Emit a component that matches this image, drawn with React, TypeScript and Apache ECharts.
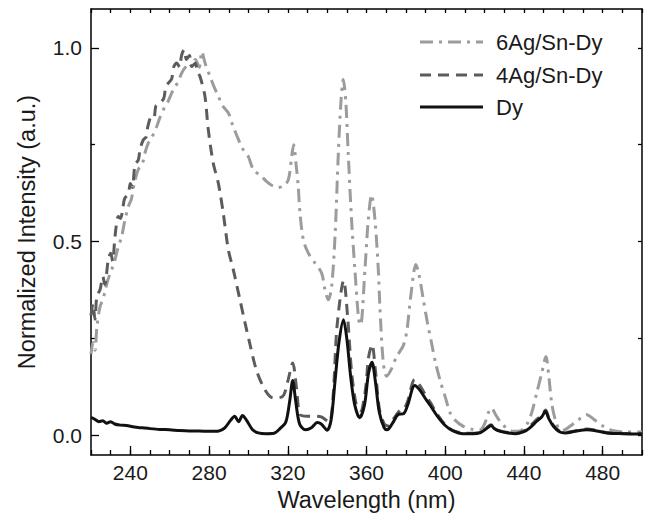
import React, { useEffect, useRef } from "react";
import * as echarts from "echarts";

const seriesNames = ["6Ag/Sn-Dy", "4Ag/Sn-Dy", "Dy"];
const seriesColors = ["#9c9c9c", "#5c5c5c", "#111111"];
const seriesDash: (number[] | null)[] = [[13, 6, 3, 6], [11, 7], null];

const xMajorTicks = [240, 280, 320, 360, 400, 440, 480];
const yMajorTicks = [0, 0.5, 1.0];
const yMinorTicks = [0.25, 0.75];

const dyWl = [220, 222, 224, 226, 228, 230, 232, 235, 238, 242, 246, 250, 255, 260, 265, 270, 275, 280, 285, 288, 291, 293, 295, 297, 299, 302, 305, 309, 313, 316, 319, 321, 322.5, 324, 326, 329, 332, 335, 337, 340, 342, 344, 346, 348.3, 350, 352, 354, 356.5, 359, 361, 362.8, 364.5, 366.5, 369, 370.5, 373, 376, 379, 381, 384.5, 387, 390, 392.5, 396, 400, 404, 409, 414, 418, 421, 423.3, 425, 428, 432, 436, 440, 443, 446.5, 449, 451, 452.5, 455, 458, 461, 466, 472, 477, 482, 490, 500];
const dyVal = [0.047, 0.042, 0.036, 0.038, 0.032, 0.036, 0.03, 0.027, 0.026, 0.022, 0.02, 0.018, 0.016, 0.015, 0.013, 0.012, 0.012, 0.011, 0.012, 0.02, 0.04, 0.05, 0.036, 0.052, 0.04, 0.016, 0.007, 0.005, 0.006, 0.018, 0.035, 0.09, 0.142, 0.09, 0.03, 0.015, 0.02, 0.034, 0.03, 0.014, 0.04, 0.14, 0.24, 0.299, 0.25, 0.15, 0.08, 0.046, 0.08, 0.16, 0.189, 0.14, 0.06, 0.02, 0.015, 0.03, 0.054, 0.057, 0.08, 0.129, 0.118, 0.095, 0.077, 0.05, 0.026, 0.012, 0.005, 0.005, 0.008, 0.018, 0.026, 0.018, 0.011, 0.007, 0.005, 0.01, 0.02, 0.037, 0.048, 0.063, 0.045, 0.024, 0.01, 0.007, 0.011, 0.015, 0.012, 0.007, 0.005, 0.004];

const ag4Wl = [220, 221, 222, 223, 224.6, 226, 227, 228.8, 230, 231, 232.2, 233.9, 235, 236, 237, 239, 240, 241, 242.4, 244, 245, 246.6, 248, 249, 250.8, 252, 253, 255, 257, 258, 259.3, 261, 262, 263.5, 265, 266, 267.3, 268.5, 270, 271.2, 273, 274, 275.4, 277.9, 279.6, 282.1, 284.7, 287.2, 289.8, 292.3, 295.7, 298.3, 300.8, 304, 308.4, 312.6, 316, 318, 320, 322.5, 324.5, 326.2, 330, 334, 337, 341, 343, 345, 348.4, 350.5, 352.5, 355, 357, 359.5, 361, 362.8, 364.5, 366.5, 369, 371, 374, 377, 379, 381, 384.5, 387, 390, 392.5, 396, 400, 404, 409, 414, 418, 421, 423.3, 425, 428, 432, 436, 440, 443, 446.5, 449, 451, 452.5, 455, 458, 461, 466, 472, 477, 482, 490, 500];
const ag4Val = [0.31, 0.34, 0.3, 0.36, 0.376, 0.41, 0.39, 0.454, 0.47, 0.45, 0.514, 0.565, 0.56, 0.58, 0.61, 0.625, 0.65, 0.64, 0.7, 0.71, 0.74, 0.763, 0.77, 0.8, 0.823, 0.82, 0.85, 0.857, 0.87, 0.9, 0.909, 0.92, 0.95, 0.961, 0.95, 0.98, 0.995, 0.97, 0.98, 0.952, 0.96, 0.94, 0.926, 0.875, 0.789, 0.703, 0.651, 0.574, 0.479, 0.428, 0.35, 0.29, 0.235, 0.17, 0.118, 0.097, 0.098, 0.105, 0.14, 0.187, 0.12, 0.055, 0.05, 0.05, 0.048, 0.035, 0.1, 0.28, 0.4, 0.3, 0.16, 0.075, 0.065, 0.12, 0.2, 0.235, 0.17, 0.07, 0.03, 0.025, 0.045, 0.065, 0.068, 0.09, 0.145, 0.13, 0.105, 0.085, 0.055, 0.028, 0.013, 0.007, 0.006, 0.009, 0.02, 0.028, 0.019, 0.012, 0.008, 0.006, 0.012, 0.024, 0.042, 0.052, 0.066, 0.048, 0.026, 0.012, 0.008, 0.012, 0.017, 0.013, 0.008, 0.006, 0.005];

const ag6Wl = [220, 221, 222, 223, 224.6, 226, 227, 228.5, 230.5, 232, 233.5, 235.6, 237, 239, 240.5, 242, 244, 246, 247.5, 249.1, 251, 253.4, 255, 257.6, 259, 261.8, 264, 266.1, 268, 270, 271.2, 273, 275, 276.3, 278, 280.5, 282.5, 284.7, 287, 289.8, 292, 294.8, 297, 299.9, 302.5, 306.7, 309.3, 312, 315, 317.7, 320.3, 322, 323, 324.2, 325.3, 326.2, 327.9, 330.4, 333.8, 337.2, 338.9, 340.6, 342.3, 344, 345.7, 347, 348.2, 349.5, 350.7, 352.4, 354.1, 356, 357, 359.2, 360.9, 362.6, 364.3, 366, 366.8, 368.5, 370.2, 372.5, 375.3, 378.7, 380.5, 382.5, 385.1, 386.5, 388.9, 391, 393, 395, 397.3, 400, 402.4, 405, 409.2, 414, 417.7, 420, 422, 423.6, 425.5, 427.8, 431, 434.6, 438, 441.4, 444, 446.5, 449, 451.2, 452.5, 454.1, 456, 458.3, 460, 463.4, 467, 471.9, 476, 480.3, 484, 487.1, 492, 500];
const ag6Val = [0.21, 0.24, 0.22, 0.28, 0.333, 0.35, 0.37, 0.4, 0.428, 0.45, 0.48, 0.514, 0.55, 0.591, 0.61, 0.65, 0.686, 0.7, 0.73, 0.754, 0.77, 0.797, 0.82, 0.849, 0.86, 0.892, 0.91, 0.935, 0.95, 0.96, 0.952, 0.97, 0.95, 0.99, 0.96, 0.926, 0.9, 0.875, 0.85, 0.832, 0.8, 0.765, 0.74, 0.72, 0.686, 0.668, 0.655, 0.645, 0.64, 0.643, 0.66, 0.72, 0.75, 0.7, 0.643, 0.574, 0.505, 0.471, 0.445, 0.419, 0.376, 0.35, 0.385, 0.514, 0.729, 0.86, 0.918, 0.86, 0.729, 0.557, 0.428, 0.3, 0.285, 0.428, 0.557, 0.621, 0.557, 0.428, 0.333, 0.19, 0.153, 0.17, 0.204, 0.232, 0.27, 0.36, 0.441, 0.42, 0.35, 0.29, 0.24, 0.19, 0.144, 0.1, 0.06, 0.04, 0.024, 0.016, 0.015, 0.03, 0.06, 0.071, 0.055, 0.037, 0.02, 0.011, 0.012, 0.028, 0.06, 0.11, 0.16, 0.204, 0.16, 0.084, 0.04, 0.015, 0.014, 0.024, 0.038, 0.054, 0.04, 0.024, 0.015, 0.011, 0.009, 0.009];

const FONT = "'Liberation Sans', Arial, Helvetica, sans-serif";
const TXT = "#1a1a1a";

function pairs(xs: number[], ys: number[]) {
  return xs.map((x, i) => [x, ys[i]]);
}

export default function App() {
  const ref = useRef<HTMLDivElement>(null);
  useEffect(() => {
    if (!ref.current) return;
    const chart = echarts.init(ref.current, null, { renderer: "svg" });
    const axisLineStyle = { color: "#000", width: 1.5 };
    const tickStyle = { color: "#000", width: 1.3 };
    const xCommon = { type: "value", min: 220, max: 500, splitLine: { show: false } };
    const yCommon = { type: "value", min: -0.05, max: 1.1, splitLine: { show: false } };

    const legendRowsY = [42, 75, 107];
    const legendGraphics: any[] = [];
    seriesNames.forEach((name, i) => {
      legendGraphics.push({
        type: "line",
        shape: { x1: 420, y1: legendRowsY[i], x2: 483, y2: legendRowsY[i] },
        style: {
          stroke: seriesColors[i],
          lineWidth: 3,
          lineDash: seriesDash[i] || undefined,
        },
        z: 10,
      });
      legendGraphics.push({
        type: "text",
        x: 496,
        y: legendRowsY[i],
        style: {
          text: name,
          fill: TXT,
          font: `22px ${FONT}`,
          verticalAlign: "middle",
          align: "left",
        },
        z: 10,
      });
    });

    chart.setOption({
      animation: false,
      backgroundColor: "#fff",
      textStyle: { fontFamily: FONT },
      grid: { left: 91, right: 3, top: 9, bottom: 66, containLabel: false },
      graphic: legendGraphics,
      xAxis: [
        {
          ...xCommon,
          position: "bottom",
          interval: 10,
          axisLine: { show: true, onZero: false, lineStyle: axisLineStyle },
          axisTick: { show: true, inside: true, length: 5, lineStyle: tickStyle },
          axisLabel: { show: false },
          name: "Wavelength (nm)",
          nameLocation: "middle",
          nameGap: 33,
          nameTextStyle: { fontSize: 23.5, color: TXT, fontFamily: FONT },
        },
        {
          ...xCommon,
          position: "bottom",
          axisLine: { show: false, onZero: false },
          axisTick: { show: true, inside: true, length: 9, customValues: xMajorTicks, lineStyle: tickStyle },
          axisLabel: { show: true, customValues: xMajorTicks, fontSize: 21, color: TXT, fontFamily: FONT, margin: 7 },
        },
        {
          ...xCommon,
          position: "top",
          interval: 10,
          axisLine: { show: true, onZero: false, lineStyle: axisLineStyle },
          axisTick: { show: true, inside: true, length: 4, lineStyle: tickStyle },
          axisLabel: { show: false },
        },
      ],
      yAxis: [
        {
          ...yCommon,
          position: "left",
          axisLine: { show: true, onZero: false, lineStyle: axisLineStyle },
          axisTick: { show: true, inside: true, length: 8, customValues: yMajorTicks, lineStyle: tickStyle },
          axisLabel: {
            show: true,
            customValues: yMajorTicks,
            formatter: (v: number) => v.toFixed(1),
            fontSize: 21,
            color: TXT,
            fontFamily: FONT,
            margin: 9,
          },
          name: "Normalized Intensity (a.u.)",
          nameLocation: "middle",
          nameGap: 52,
          nameTextStyle: { fontSize: 23.5, color: TXT, fontFamily: FONT },
        },
        {
          ...yCommon,
          position: "left",
          axisLine: { show: false, onZero: false },
          axisTick: { show: true, inside: true, length: 4, customValues: yMinorTicks, lineStyle: tickStyle },
          axisLabel: { show: false },
        },
        {
          ...yCommon,
          position: "right",
          axisLine: { show: true, onZero: false, lineStyle: axisLineStyle },
          axisTick: { show: true, inside: true, length: 4, customValues: [0, 0.25, 0.5, 0.75, 1.0], lineStyle: tickStyle },
          axisLabel: { show: false },
        },
      ],
      series: [
        {
          name: seriesNames[0],
          type: "line",
          data: pairs(ag6Wl, ag6Val),
          symbol: "none",
          smooth: 0.3,
          lineStyle: { color: seriesColors[0], width: 3, type: seriesDash[0] },
          itemStyle: { color: seriesColors[0] },
          z: 2,
        },
        {
          name: seriesNames[1],
          type: "line",
          data: pairs(ag4Wl, ag4Val),
          symbol: "none",
          smooth: 0.3,
          lineStyle: { color: seriesColors[1], width: 3, type: seriesDash[1] },
          itemStyle: { color: seriesColors[1] },
          z: 3,
        },
        {
          name: seriesNames[2],
          type: "line",
          data: pairs(dyWl, dyVal),
          symbol: "none",
          smooth: 0.3,
          lineStyle: { color: seriesColors[2], width: 3, type: "solid" },
          itemStyle: { color: seriesColors[2] },
          z: 4,
        },
      ],
    });
    return () => chart.dispose();
  }, []);
  return (
    <div
      ref={ref}
      style={{ position: "fixed", left: 0, top: 0, width: 645, height: 521, background: "#fff" }}
    />
  );
}
